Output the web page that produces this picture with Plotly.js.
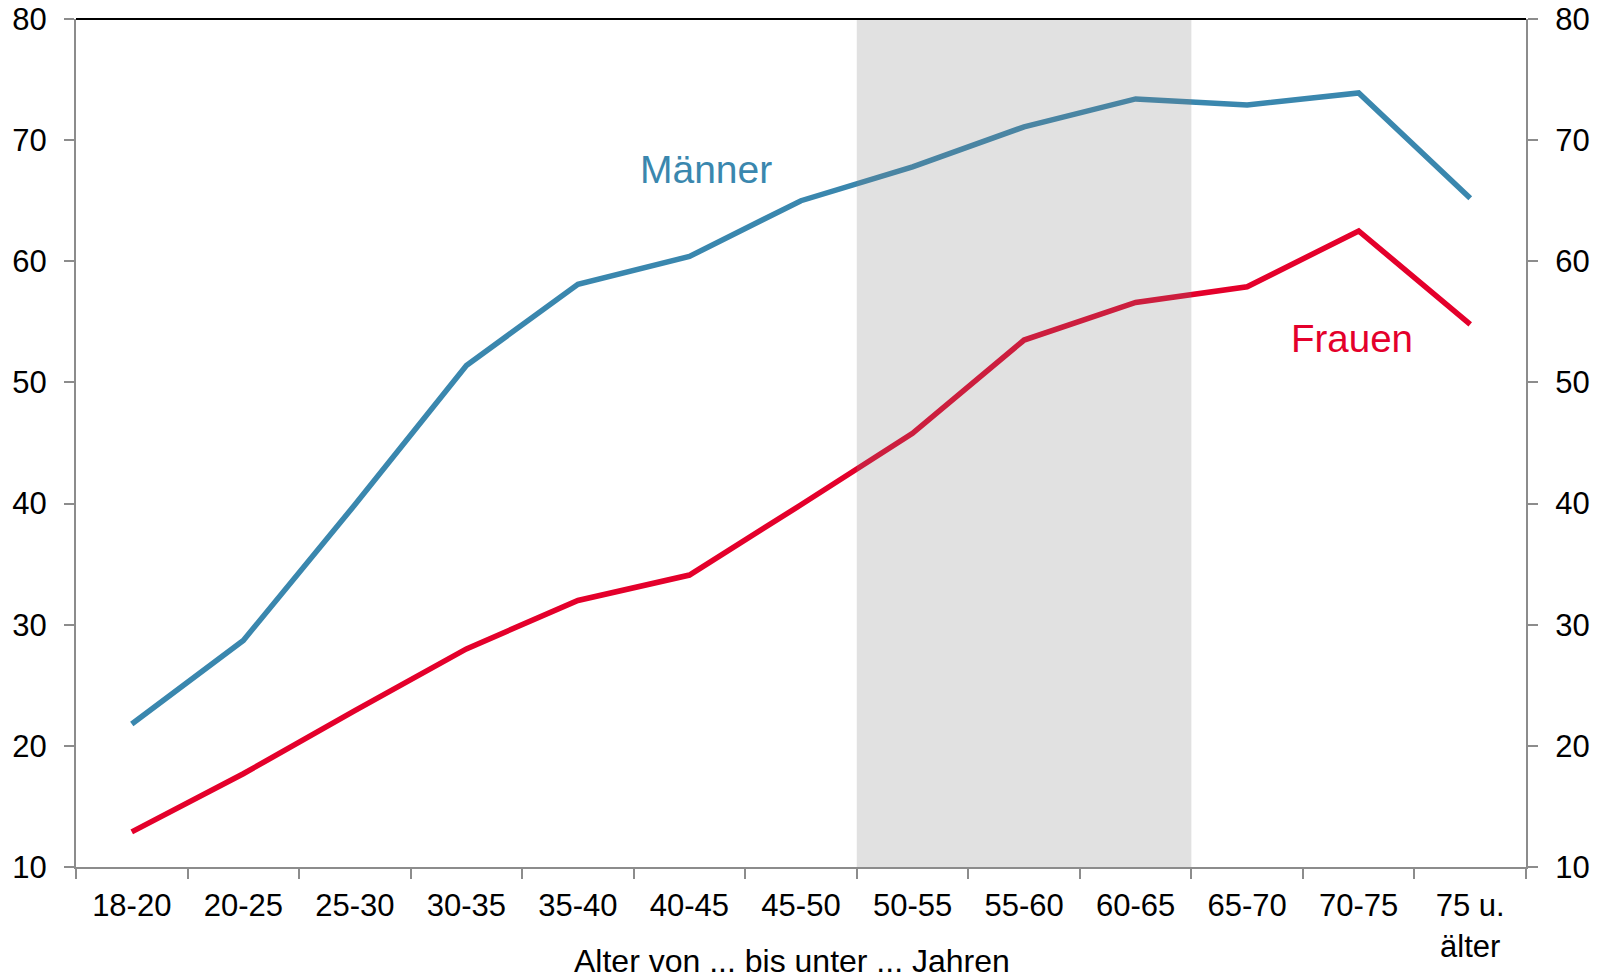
<!DOCTYPE html>
<html>
<head>
<meta charset="utf-8">
<script src="https://cdn.plot.ly/plotly-3.0.1.min.js"></script>
<style>html,body{margin:0;padding:0;background:#fff;overflow:hidden;width:1606px;height:979px}#chart{width:1606px;height:979px}</style>
</head>
<body>
<div id="chart"></div>
<script>
const categories = ["18-20","20-25","25-30","30-35","35-40","40-45","45-50","50-55","55-60","60-65","65-70","70-75","75 u.<br>älter"];
const maenner = [21.8, 28.7, 39.9, 51.4, 58.1, 60.4, 65.0, 67.8, 71.1, 73.4, 72.9, 73.9, 65.2];
const frauen  = [12.9, 17.7, 22.9, 28.0, 32.0, 34.1, 39.9, 45.8, 53.5, 56.6, 57.9, 62.5, 54.8];
const yTicks = [10, 20, 30, 40, 50, 60, 70, 80];
const xTitle = "Alter von ... bis unter ... Jahren";
const shadeFrom = "50-55", shadeTo = "60-65";

const BLUE = "#3a87ae", RED = "#e4002b", AXIS = "#8c8c8c";
const FAMILY = "Liberation Sans, Arial, sans-serif";
const tickFont = {family: FAMILY, size: 31, color: "#000"};

const traces = [
  {x: categories, y: maenner, type: "scatter", mode: "lines", line: {color: BLUE, width: 5.5}, hoverinfo: "none", yaxis: "y"},
  {x: categories, y: frauen, type: "scatter", mode: "lines", line: {color: RED, width: 5.5}, hoverinfo: "none", yaxis: "y2"}
];

const i0 = categories.indexOf(shadeFrom) - 0.5;
const i1 = categories.indexOf(shadeTo) + 0.5;

function yAxis(extra) {
  return Object.assign({
    range: [10, 80], tickvals: yTicks, ticktext: yTicks.map(String),
    showgrid: false, zeroline: false, showline: true, linecolor: AXIS, linewidth: 2,
    ticks: "outside", ticklen: 10, tickcolor: AXIS, tickwidth: 2, tickfont: tickFont,
    ticklabelstandoff: 11, fixedrange: true, automargin: false
  }, extra);
}

const layout = {
  width: 1606, height: 979,
  margin: {l: 76, r: 80, t: 19, b: 112},
  paper_bgcolor: "#fff", plot_bgcolor: "#fff",
  showlegend: false,
  font: tickFont,
  xaxis: {
    type: "category", range: [-0.5, categories.length - 0.5],
    tickson: "boundaries", ticks: "outside", ticklen: 10, tickcolor: AXIS, tickwidth: 2,
    showline: true, linecolor: AXIS, linewidth: 2, showgrid: false, zeroline: false,
    tickfont: tickFont, tickangle: 0, automargin: false, ticklabelstandoff: 10
  },
  yaxis: yAxis({side: "left"}),
  yaxis2: yAxis({side: "right", overlaying: "y", anchor: "x"}),
  shapes: [
    {type: "rect", xref: "x", yref: "paper", x0: i0, x1: i1, y0: 0, y1: 1, layer: "above",
     fillcolor: "rgba(128,128,128,0.236)", line: {width: 0}},
    {type: "line", xref: "paper", yref: "paper", x0: 0, x1: 1, y0: 1, y1: 1, line: {color: "#000", width: 2}, layer: "above"}
  ],
  annotations: [
    {x: "40-45", y: 67.6, xref: "x", yref: "y", text: "Männer", showarrow: false,
     xshift: 17, font: {family: FAMILY, size: 39, color: BLUE}},
    {x: "70-75", y: 53.6, xref: "x", yref: "y", text: "Frauen", showarrow: false,
     xshift: -7, font: {family: FAMILY, size: 38.5, color: RED}},
    {x: 0.494, y: 0, xref: "paper", yref: "paper", yshift: -94, yanchor: "middle", text: xTitle, showarrow: false,
     font: {family: FAMILY, size: 32, color: "#000"}}
  ]
};

Plotly.newPlot("chart", traces, layout, {staticPlot: true, displayModeBar: false});
</script>
</body>
</html>
